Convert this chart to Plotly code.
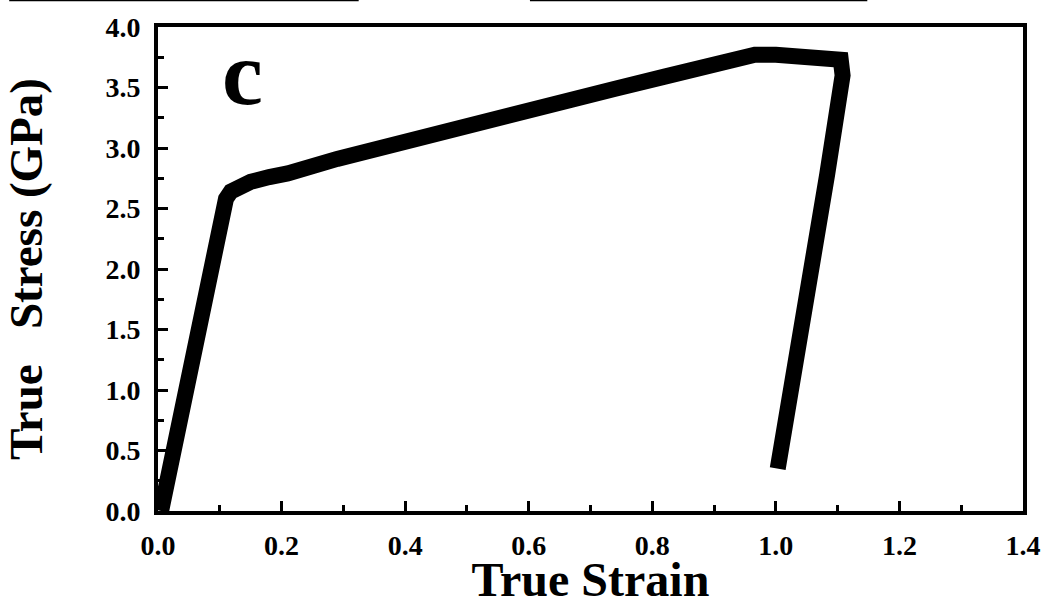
import plotly.graph_objects as go

# Data
strain = [0.005, 0.075, 0.090, 0.098, 0.104, 0.110, 0.118, 0.130, 0.150, 0.180, 0.210,
          0.290, 0.400, 0.500, 0.620, 0.740, 0.820, 0.900, 0.966, 1.000, 1.080, 1.105,
          1.108, 1.103, 1.083, 1.003]
stress = [0.00, 1.82, 2.20, 2.40, 2.50, 2.58, 2.64, 2.685, 2.72, 2.76, 2.79,
          2.91, 3.06, 3.19, 3.34, 3.49, 3.59, 3.68, 3.77, 3.77, 3.75, 3.73,
          3.60, 3.41, 2.78, 0.35]

x_ticks = [0.0, 0.2, 0.4, 0.6, 0.8, 1.0, 1.2, 1.4]
y_ticks = [0.0, 0.5, 1.0, 1.5, 2.0, 2.5, 3.0, 3.5, 4.0]
panel_label = "c"

FONT = "Liberation Serif"

fig = go.Figure()
fig.add_trace(go.Scatter(
    x=strain, y=stress, mode="lines",
    line=dict(color="black", width=16),
    showlegend=False, hoverinfo="skip",
))

fig.add_annotation(
    x=0.137, y=3.62, xref="x", yref="y", text=f"<b>{panel_label}</b>",
    showarrow=False, font=dict(family=FONT, size=92, color="black"),
)

axis_common = dict(
    showline=True, linecolor="black", linewidth=4, mirror=True,
    ticks="inside", tickcolor="black", tickwidth=3, ticklen=10,
    showgrid=False, zeroline=False,
    tickfont=dict(family=FONT, size=28, color="black"),
)

fig.update_xaxes(
    range=[0, 1.4], tickvals=x_ticks, ticktext=[f"<b>{v:.1f}</b>" for v in x_ticks],
    minor=dict(dtick=0.1, ticks="inside", ticklen=6, tickwidth=3, tickcolor="black"),
    title=dict(text="<b>True Strain</b>", font=dict(family=FONT, size=48, color="black"), standoff=0),
    ticklabelstandoff=6,
    **axis_common,
)
fig.update_yaxes(
    range=[0, 4.0], tickvals=y_ticks, ticktext=[f"<b>{v:.1f}</b>" for v in y_ticks],
    minor=dict(dtick=0.25, ticks="inside", ticklen=6, tickwidth=3, tickcolor="black"),
    title=dict(text="<b>True   Stress (GPa)</b>", font=dict(family=FONT, size=47, color="black"), standoff=50),
    ticklabelstandoff=8,
    **axis_common,
)

# cropped remnants of the neighbouring panel at the very top
for x0, x1 in [(-0.172, 0.232), (0.43, 0.82)]:
    fig.add_shape(type="rect", xref="paper", yref="paper", x0=x0, x1=x1,
                  y0=1.053, y1=1.07, fillcolor="black", line=dict(width=0))

fig.update_layout(
    width=1053, height=606,
    margin=dict(l=158, r=23, t=21, b=73),
    plot_bgcolor="white", paper_bgcolor="white",
)

fig.write_html("out.html")
